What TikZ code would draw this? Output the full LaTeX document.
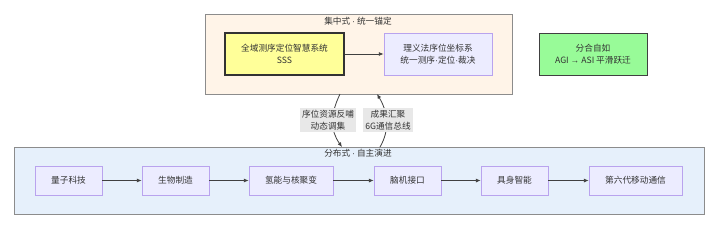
\documentclass[tikz,border=0pt]{standalone}
\usepackage{fontspec}
\setmainfont{Noto Sans CJK SC}
\newfontfamily\latf{Liberation Sans}
\newcommand{\md}{{\latf ·}}
\usetikzlibrary{arrows.meta}
\definecolor{peach}{HTML}{FFF4E8}
\definecolor{skyb}{HTML}{E6F0FB}
\definecolor{lav}{HTML}{ECECFF}
\definecolor{lavb}{HTML}{B9A3EE}
\definecolor{yel}{HTML}{FFFF99}
\definecolor{grn}{HTML}{98FB98}
\definecolor{lblbg}{HTML}{E8E8E8}
\tikzset{
  every node/.style={font=\fontsize{6.5}{9}\selectfont, text=black!80},
  cluster/.style={draw=black!45, line width=0.6pt, inner sep=0pt},
  proc/.style={draw=lavb, fill=lav, line width=0.6pt, inner sep=0pt, align=center},
  core/.style={draw=black!80, fill=yel, line width=1.4pt, inner sep=0pt, align=center},
  goal/.style={draw=black!75, fill=grn, line width=0.6pt, inner sep=0pt, align=center},
  lbl/.style={fill=lblbg, inner sep=1.5pt, align=center},
  conn/.style={draw=black!75, line width=0.6pt, -{Latex[length=3.5pt,width=3pt]}},
}
\begin{document}
\begin{tikzpicture}[x=0.75pt,y=-0.75pt]
\useasboundingbox (0,0) rectangle (718,230);
% clusters
\node[cluster, fill=peach, minimum width=307*0.75pt, minimum height=80*0.75pt] (top) at (358.5,54) {};
\node at (358,21) (toptitle) {集中式 \md{} 统一锚定};
\node[cluster, fill=skyb, minimum width=690*0.75pt, minimum height=67*0.75pt] (bot) at (359,180.5) {};
\node at (358,153) (bottitle) {分布式 \md{} 自主演进};
% top nodes
\node[core, minimum width=119*0.75pt, minimum height=42*0.75pt] (sss) at (284.5,54) {全域测序定位智慧系统\\SSS};
\node[proc, minimum width=108*0.75pt, minimum height=42*0.75pt] (lyf) at (438,54) {理义法序位坐标系\\统一测序\md{}定位\md{}裁决};
\node[goal, minimum width=108*0.75pt, minimum height=42*0.75pt] (agi) at (593,54) {分合自如\\AGI {\latf →} ASI 平滑跃迁};
\draw[conn] (sss) -- (lyf);
% bottom nodes
\node[proc, minimum width=67*0.75pt, minimum height=29*0.75pt] (q) at (68.5,180.5) {量子科技};
\node[proc, minimum width=67*0.75pt, minimum height=29*0.75pt] (b) at (175.5,180.5) {生物制造};
\node[proc, minimum width=84*0.75pt, minimum height=29*0.75pt] (h) at (291,180.5) {氢能与核聚变};
\node[proc, minimum width=67*0.75pt, minimum height=29*0.75pt] (n) at (407.5,180.5) {脑机接口};
\node[proc, minimum width=67*0.75pt, minimum height=29*0.75pt] (e) at (514.5,180.5) {具身智能};
\node[proc, minimum width=93*0.75pt, minimum height=29*0.75pt] (g) at (635.5,180.5) {第六代移动通信};
\draw[conn] (q) -- (b);
\draw[conn] (b) -- (h);
\draw[conn] (h) -- (n);
\draw[conn] (n) -- (e);
\draw[conn] (e) -- (g);
% cross links
\coordinate (t1) at (340,94);
\coordinate (b1) at (342,147);
\coordinate (t2) at (377,94);
\coordinate (b2) at (380,147);
\draw[conn] (t1) .. controls (330,115) and (330,130) .. (b1);
\draw[conn] (b2) .. controls (390,130) and (388,112) .. (t2);
\node[lbl] (l1) at (328,120) {序位资源反哺\\动态调集};
\node[lbl] (l2) at (388,120) {成果汇聚\\6G通信总线};
\end{tikzpicture}
\end{document}
